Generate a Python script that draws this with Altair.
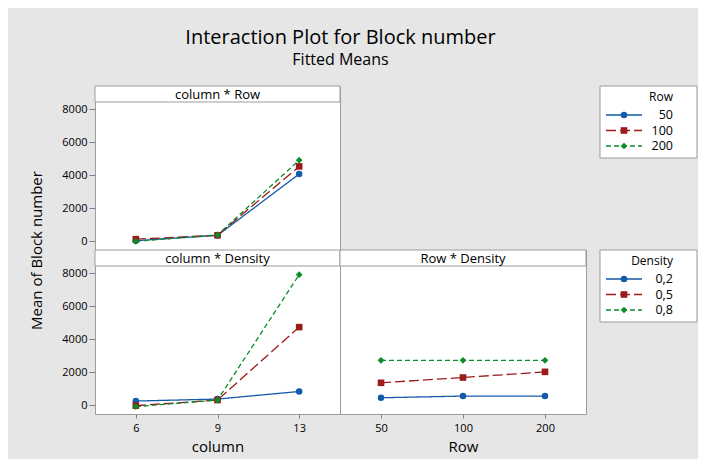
import altair as alt
import pandas as pd

# ---------------- data ----------------
columns = ["6", "9", "13"]
rows = ["50", "100", "200"]
densities = ["0,2", "0,5", "0,8"]

# column * Row (fitted means, one list per Row level, in column order)
cr_50 = [20, 340, 4060]
cr_100 = [110, 350, 4520]
cr_200 = [-20, 370, 4900]

# column * Density
cd_02 = [240, 360, 820]
cd_05 = [-40, 300, 4720]
cd_08 = [-100, 300, 7900]

# Row * Density
rd_02 = [440, 540, 540]
rd_05 = [1345, 1665, 2010]
rd_08 = [2710, 2710, 2710]

y_ticks = [0, 2000, 4000, 6000, 8000]

# ---------------- styling ----------------
FONT = "Open Sans"
GRAY = "#9c9c9c"
COLORS = ["#145aaa", "#9b1b1b", "#0a8c28"]
SHAPES = ["circle", "square", "diamond"]
SIZES = [42, 45, 70]
DASHES = [[1, 0], [10, 4], [5, 3]]
W1, W2, H, HDR = 245, 246, 164, 16
YDOM = [-545, 9394]


def long_df(xvals, levels, series, xname):
    recs = []
    for lev, vals in zip(levels, series):
        for xv, v in zip(xvals, vals):
            recs.append({xname: xv, "level": lev, "mean": v})
    return pd.DataFrame(recs)


df_cr = long_df(columns, rows, [cr_50, cr_100, cr_200], "column")
df_cd = long_df(columns, densities, [cd_02, cd_05, cd_08], "column")
df_rd = long_df(rows, densities, [rd_02, rd_05, rd_08], "Row")


def enc_style(levels):
    return dict(
        color=alt.Color("level:N", scale=alt.Scale(domain=levels, range=COLORS), legend=None),
        strokeDash=alt.StrokeDash("level:N", scale=alt.Scale(domain=levels, range=DASHES), legend=None),
        shape=alt.Shape("level:N", scale=alt.Scale(domain=levels, range=SHAPES), legend=None),
        size=alt.Size("level:N", scale=alt.Scale(domain=levels, range=SIZES), legend=None),
    )


def panel(df, xfield, xorder, levels, header, width, xaxis, yaxis):
    x = alt.X(f"{xfield}:O", sort=xorder, scale=alt.Scale(type="point", padding=0.5), axis=xaxis)
    y = alt.Y("mean:Q", scale=alt.Scale(domain=YDOM, nice=False, zero=False), axis=yaxis)
    hdf = pd.DataFrame({"header": [header]})
    box = alt.Chart(hdf).mark_rect(fill="white", stroke=GRAY, strokeWidth=1).encode(
        x=alt.value(0), x2=alt.value(width), y=alt.value(0), y2=alt.value(HDR)
    )
    txt = alt.Chart(hdf).mark_text(font=FONT, fontSize=13, color="black", baseline="middle").encode(
        text="header:N", x=alt.value(width / 2), y=alt.value(HDR / 2 + 0.5)
    )
    st = enc_style(levels)
    lines = alt.Chart(df).mark_line(strokeWidth=1.3).encode(
        x=x, y=y, color=st["color"], strokeDash=st["strokeDash"], detail="level:N"
    )
    pts = alt.Chart(df).mark_point(filled=True, opacity=1).encode(
        x=x, y=y, color=st["color"], shape=st["shape"], size=st["size"],
    )
    return alt.layer(box, txt, lines, pts).properties(width=width, height=H)


def legend(levels, title):
    d = pd.DataFrame({"level": levels})
    tdf = pd.DataFrame({"t": [title]})
    st = enc_style(levels)
    yenc = alt.Y("level:N", sort=levels,
                 scale=alt.Scale(type="point", domain=levels, range=[29, 60], padding=0), axis=None)
    box = alt.Chart(tdf).mark_rect(fill="white", stroke=GRAY, strokeWidth=1).encode(
        x=alt.value(14), x2=alt.value(111), y=alt.value(0), y2=alt.value(72)
    )
    ttl = alt.Chart(tdf).mark_text(font=FONT, fontSize=12, align="right", baseline="middle", color="black").encode(
        text="t:N", x=alt.value(87), y=alt.value(11)
    )
    rule = alt.Chart(d).mark_rule(strokeWidth=1.3).encode(
        x=alt.value(20), x2=alt.value(56), y=yenc, color=st["color"], strokeDash=st["strokeDash"]
    )
    pts = alt.Chart(d).mark_point(filled=True, opacity=1).encode(
        x=alt.value(38), y=yenc, color=st["color"], shape=st["shape"], size=st["size"],
    )
    lbl = alt.Chart(d).mark_text(font=FONT, fontSize=12.5, align="right", baseline="middle", color="black").encode(
        x=alt.value(87), y=yenc, text="level:N"
    )
    return alt.layer(box, ttl, rule, pts, lbl).properties(
        width=111, height=72, view=alt.ViewBackground(stroke="transparent", fill="transparent")
    )


yaxis_kw = dict(values=y_ticks, format="d", domain=False, tickSize=6, labelPadding=2, grid=False)

tl = panel(
    df_cr, "column", columns, rows, "column * Row", W1, None,
    alt.Axis(title="Mean of Block number", titleY=H, titleX=-54, titleBaseline="alphabetic", **yaxis_kw),
)
bl = panel(
    df_cd, "column", columns, densities, "column * Density", W1,
    alt.Axis(title="column", domain=False, tickSize=4, labelPadding=4, titlePadding=6, labelAngle=0),
    alt.Axis(title=None, **yaxis_kw),
)
br = panel(
    df_rd, "Row", rows, densities, "Row * Density", W2,
    alt.Axis(title="Row", domain=False, tickSize=4, labelPadding=4, titlePadding=6, labelAngle=0),
    None,
)

empty = alt.Chart(pd.DataFrame({"v": [0]})).mark_point(opacity=0).encode(
    x=alt.value(0), y=alt.value(0)
).properties(width=W2, height=H, view=alt.ViewBackground(stroke="transparent", fill="transparent"))

chart = alt.concat(
    tl, empty, legend(rows, "Row"),
    bl, br, legend(densities, "Density"),
    columns=3, spacing=0, bounds="flush",
).resolve_scale(
    color="independent", shape="independent", strokeDash="independent", size="independent"
).properties(
    title=alt.TitleParams(
        text="Interaction Plot for Block number", subtitle="Fitted Means",
        font=FONT, fontSize=20, fontWeight="normal", color="black",
        subtitleFont=FONT, subtitleFontSize=16, subtitleColor="black",
        anchor="start", frame="group", align="center", dx=245.5, offset=15, subtitlePadding=4,
    ),
    padding={"left": 20, "top": 19, "right": 0, "bottom": 4},
).configure(background="#e6e6e6").configure_view(
    stroke=GRAY, fill="white"
).configure_axis(
    labelFont=FONT, labelFontSize=11, labelColor="black",
    titleFont=FONT, titleFontSize=15, titleFontWeight="normal", titleColor="black",
    tickColor="#808080",
)

chart.save("out.html", embed_options={"renderer": "svg", "actions": False})
